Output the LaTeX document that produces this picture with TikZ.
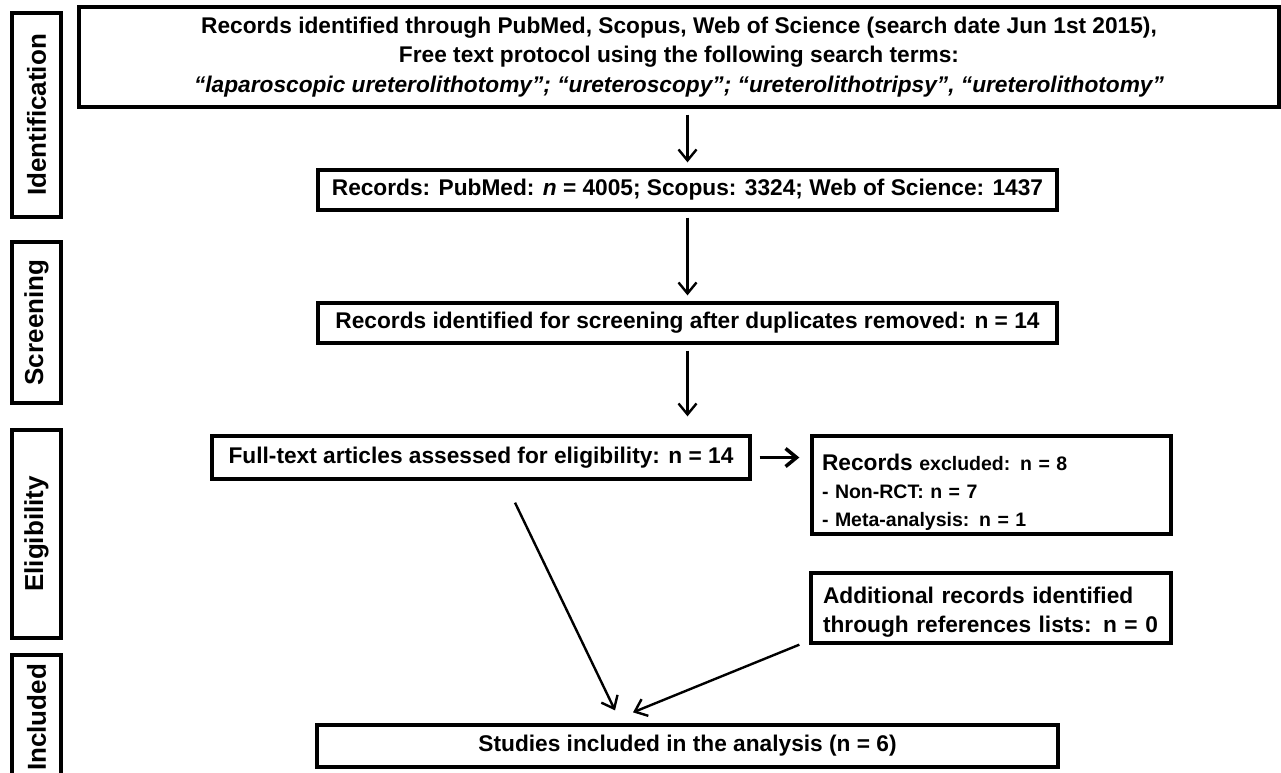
\documentclass[tikz,border=0pt]{standalone}
\usepackage{fontspec}
\setmainfont{Liberation Sans}
\usetikzlibrary{arrows.meta}

\begin{document}
\begin{tikzpicture}[
  x=1pt, y=-1pt,
  box/.style={draw, line width=3.3pt, inner sep=0pt, align=center,
    font=\bfseries\fontsize{22.7}{29.5}\selectfont},
  stage/.style={draw, line width=3.3pt, inner sep=0pt, rotate=90,
    minimum height=49pt, font=\bfseries\fontsize{26}{30}\selectfont},
  arr/.style={line width=2.4pt, shorten <=6pt, shorten >=6pt,
    -{Straight Barb[length=11pt, width=18pt]}},
]
  \useasboundingbox (0, 0) rectangle (1281, 772);

  \node[stage, minimum width=204pt] (ident) at (36.5, 115) {Identification};
  \node[stage, minimum width=161pt] (screen) at (36.5, 322.5) {Screening};
  \node[stage, minimum width=208pt] (elig) at (36.5, 534) {Eligibility};
  \node[stage, minimum width=125pt] (incl) at (36.5, 717.5) {Included};

  \node[box, minimum width=1200pt, minimum height=100pt] (search) at (679, 57)
    {Records identified through PubMed, Scopus, Web of Science (search date Jun 1st 2015),\\
     Free text protocol using the following search terms:\\
     {\itshape “laparoscopic ureterolithotomy”; “ureteroscopy”; “ureterolithotripsy”, “ureterolithotomy”}};
  \node[box, minimum width=739pt, minimum height=40pt] (records) at (687.5, 190)
    {Records: PubMed: \textit{n} = 4005; Scopus: 3324; Web of Science: 1437};
  \node[box, minimum width=739pt, minimum height=40pt] (dedup) at (687.5, 323)
    {Records identified for screening after duplicates removed: n = 14};
  \node[box, minimum width=538pt, minimum height=43pt] (fulltext) at (481, 457.5)
    {Full-text articles assessed for eligibility: n = 14};
  \node[box, align=left, inner xsep=10pt, text width=339pt, minimum height=98pt,
    font=\bfseries\fontsize{19.5}{28}\selectfont] (excluded) at (991.5, 485)
    {\rule{0pt}{31pt}{\fontsize{22.7}{28}\selectfont Records} excluded: n = 8\\
     - Non-RCT: n = 7\\
     - Meta-analysis: n = 1};
  \node[box, align=left, inner xsep=8pt, text width=344pt, minimum height=70pt,
    font=\bfseries\fontsize{22.7}{29}\selectfont] (additional) at (991, 608)
    {\rule{0pt}{24pt}\hspace*{4pt}Additional records identified\\
     \hspace*{4pt}through references lists: n = 0};
  \node[box, minimum width=741pt, minimum height=42pt] (studies) at (687.5, 746)
    {Studies included in the analysis (n = 6)};

  \draw[arr] (search.south -| records.north) -- (records.north);
  \draw[arr] (records.south) -- (dedup.north);
  \draw[arr, shorten >=18pt] (dedup.south) -- (fulltext.north -| dedup.south);
  \draw[arr, line width=3.5pt, shorten <=8pt, shorten >=11pt]
    (fulltext.east) -- (fulltext.east -| excluded.west);
  \draw[arr, shorten <=0pt, shorten >=0pt]
    ([xshift=34pt, yshift=-22pt]fulltext.south) -- ([xshift=-72.5pt, yshift=13pt]studies.north);
  \draw[arr, shorten <=0pt, shorten >=0pt]
    ([xshift=-10pt]additional.south west) -- ([xshift=-54.5pt, yshift=11pt]studies.north);
\end{tikzpicture}
\end{document}
